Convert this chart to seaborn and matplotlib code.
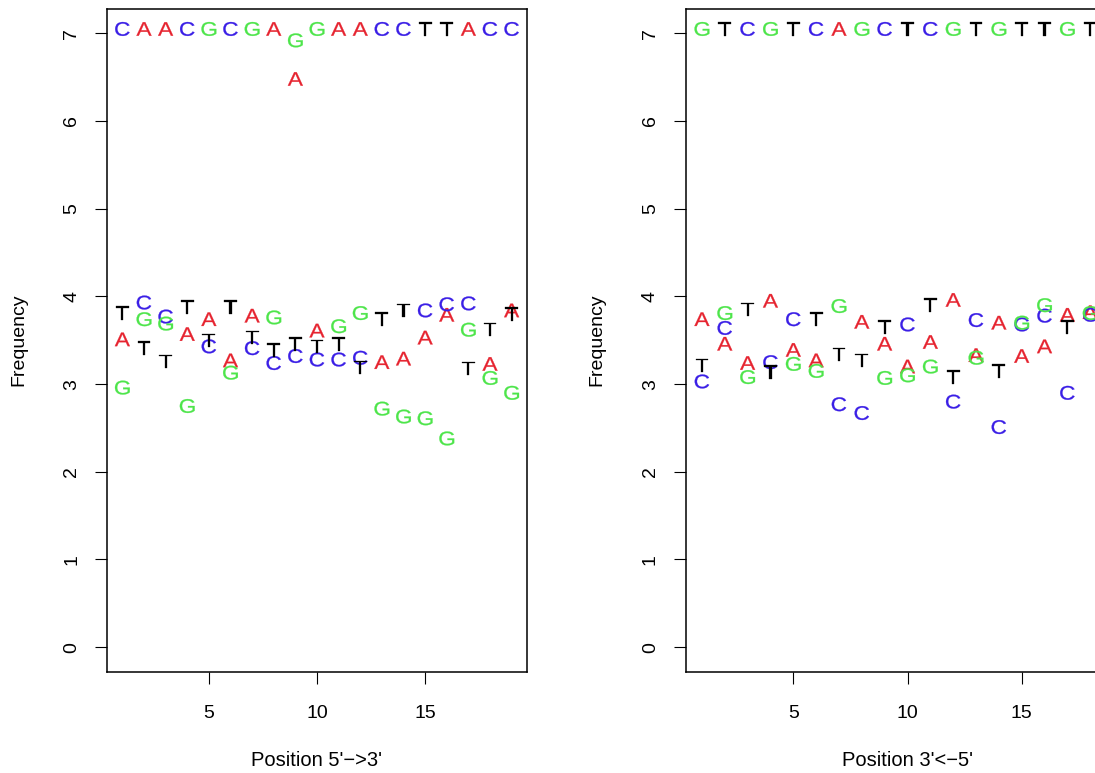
import numpy as np
import pandas as pd
import seaborn as sns
import matplotlib.pyplot as plt
from matplotlib.path import Path
from matplotlib.textpath import TextPath
from matplotlib.font_manager import FontProperties

bases = ["A", "C", "G", "T"]
base_colors = {"A": "#e6232f", "C": "#3a1ee6", "G": "#4de54a", "T": "#000000"}

# 5'->3' panel, positions 1..19
pos_left = list(range(1, 20))
left_A = [3.51, 7.05, 7.05, 3.57, 3.74, 3.27, 3.78, 7.05, 6.48, 3.61,
          7.05, 7.05, 3.25, 3.29, 3.53, 3.79, 7.05, 3.23, 3.84]
left_C = [7.05, 3.93, 3.77, 7.05, 3.43, 7.05, 3.41, 3.24, 3.32, 3.28,
          3.28, 3.30, 7.05, 7.05, 3.84, 3.91, 3.92, 7.05, 7.05]
left_G = [2.96, 3.74, 3.69, 2.75, 7.05, 3.13, 7.05, 3.76, 6.92, 7.05,
          3.66, 3.81, 2.72, 2.63, 2.61, 2.38, 3.62, 3.07, 2.90]
left_T = [3.81, 3.41, 3.26, 3.88, 3.50, 3.88, 3.53, 3.39, 3.46, 3.43,
          3.46, 3.19, 3.74, 3.84, 7.05, 7.05, 3.18, 3.62, 3.80]

# 3'<-5' panel, the picture only shows positions 1..18
pos_right = list(range(1, 19))
right_A = [3.74, 3.46, 3.24, 3.95, 3.39, 3.27, 7.05, 3.71, 3.46, 3.20,
           3.48, 3.96, 3.33, 3.70, 3.32, 3.43, 3.79, 3.82]
right_C = [3.03, 3.64, 7.05, 3.25, 3.74, 7.05, 2.77, 2.67, 7.05, 3.68,
           7.05, 2.80, 3.73, 2.51, 3.68, 3.78, 2.90, 3.79]
right_G = [7.05, 3.81, 3.08, 7.05, 3.23, 3.15, 3.89, 7.05, 3.07, 3.10,
           3.20, 7.05, 3.30, 7.05, 3.70, 3.90, 7.05, 3.81]
right_T = [3.21, 7.05, 3.85, 3.14, 7.05, 3.74, 3.34, 3.27, 3.65, 7.05,
           3.90, 3.08, 7.05, 3.15, 7.05, 7.05, 3.65, 7.05]

y_ticks = list(range(0, 8))
x_ticks = [5, 10, 15]


def long_form(positions, A, C, G, T):
    frames = []
    for b, vals in zip(bases, [A, C, G, T]):
        frames.append(pd.DataFrame({"position": positions, "frequency": vals, "base": b}))
    return pd.concat(frames, ignore_index=True)


def letter_markers(stretch=1.15):
    # letters as marker paths, all on one common scale
    fp = FontProperties(family="Liberation Sans")
    raw = {}
    for b in bases:
        tp = TextPath((0, 0), b, size=1, prop=fp)
        v = tp.vertices.copy()
        codes = tp.codes.copy()
        start = 0
        for i, c in enumerate(codes):
            if c == Path.MOVETO:
                start = i
            elif c == Path.CLOSEPOLY:
                v[i] = v[start]
        (x0, y0), (x1, y1) = tp.get_extents().get_points()
        v[:, 0] = (v[:, 0] - (x0 + x1) / 2) * stretch
        v[:, 1] = v[:, 1] - (y0 + y1) / 2
        raw[b] = (v, codes, y1 - y0)
    half = max(np.abs(v).max() for v, _, _ in raw.values()) * 1.01
    markers = {}
    for b, (v, codes, _) in raw.items():
        verts = np.vstack([[[0, half], [0, -half]], v])
        cds = np.concatenate([[Path.MOVETO, Path.MOVETO], codes])
        markers[b] = Path(verts, cds)
    return markers, 2 * half / raw["T"][2]


sns.set_style("white")
plt.rcParams["font.family"] = ["Liberation Sans", "DejaVu Sans"]

markers, box_ratio = letter_markers()
# cap height of the letters about 13.5 px
marker_pts = 13.5 * 72 / 100 * box_ratio

fig = plt.figure(figsize=(10.95, 7.73), dpi=100)
bottom = 1 - 671.7 / 773
height = (671.7 - 8.8) / 773
ax1 = fig.add_axes([106.8 / 1095, bottom, 420.4 / 1095, height])
ax2 = fig.add_axes([685.5 / 1095, bottom, 444 / 1095, height])

panels = [
    (ax1, long_form(pos_left, left_A, left_C, left_G, left_T), "Position 5'\u2212>3'"),
    (ax2, long_form(pos_right, right_A, right_C, right_G, right_T), "Position 3'<\u22125'"),
]

for ax, df, xlabel in panels:
    sns.scatterplot(data=df, x="position", y="frequency", hue="base", style="base",
                    palette=base_colors, markers=markers, s=marker_pts ** 2,
                    linewidth=0.2, edgecolor="face", legend=False, ax=ax)
    ax.set_xlim(0.28, 19.72)
    ax.set_ylim(-0.28, 7.28)
    ax.set_xticks(x_ticks)
    ax.set_yticks(y_ticks)
    for sp in ax.spines.values():
        sp.set_visible(True)
        sp.set_color("black")
        sp.set_linewidth(1.1)
    ax.tick_params(axis="both", direction="out", length=8.6, width=0.8,
                   color="black", labelsize=14, labelcolor="black",
                   bottom=True, left=True, top=False, right=False)
    ax.tick_params(axis="x", pad=15.5)
    ax.tick_params(axis="y", labelrotation=90, pad=10.5)
    for lbl in ax.get_yticklabels():
        lbl.set_va("center")
    ax.set_xlabel(xlabel, fontsize=14.5, labelpad=21, color="black")
    ax.set_ylabel("Frequency", fontsize=14, labelpad=26, color="black")

fig.savefig("out.png", dpi=100)
